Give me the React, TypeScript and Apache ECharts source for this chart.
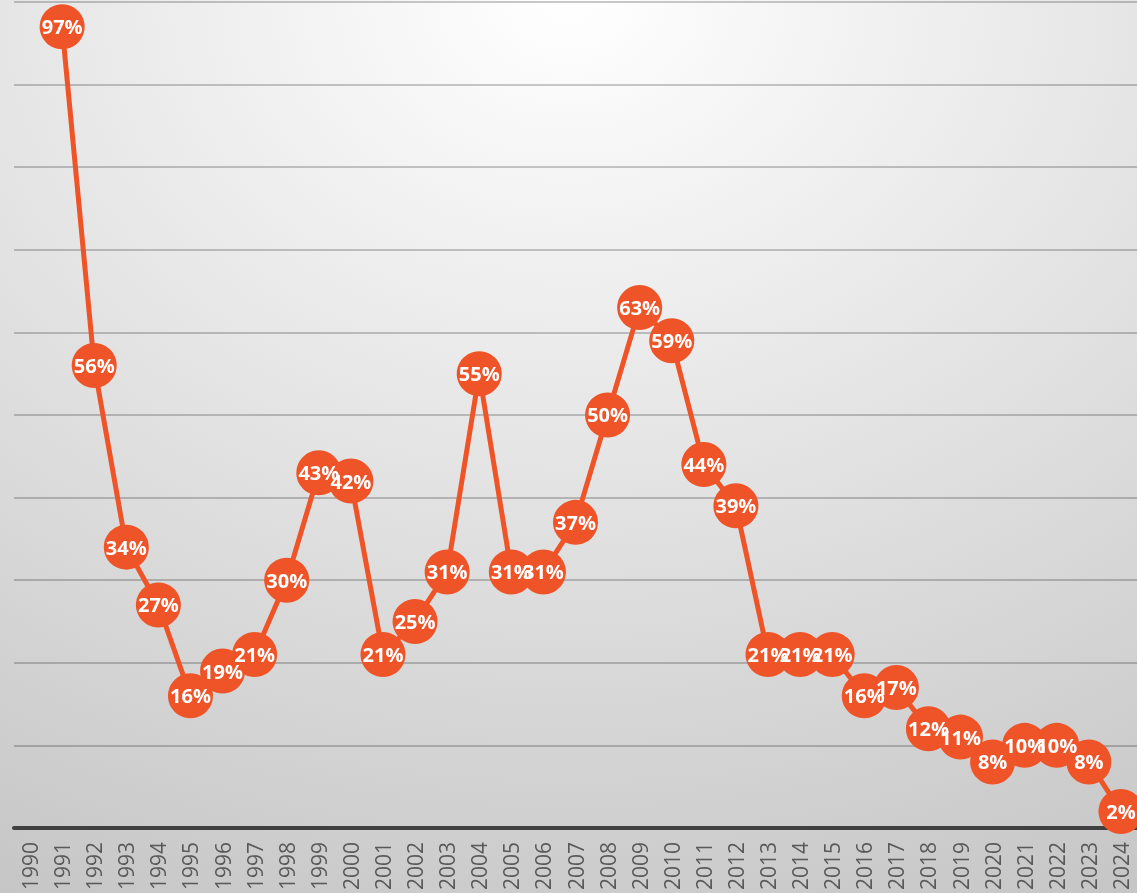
import React, { useEffect, useRef } from "react";
import * as echarts from "echarts";

const years: string[] = [
  "1990", "1991", "1992", "1993", "1994", "1995", "1996", "1997", "1998", "1999",
  "2000", "2001", "2002", "2003", "2004", "2005", "2006", "2007", "2008", "2009",
  "2010", "2011", "2012", "2013", "2014", "2015", "2016", "2017", "2018", "2019",
  "2020", "2021", "2022", "2023", "2024",
];

const values: (number | null)[] = [
  null, 97, 56, 34, 27, 16, 19, 21, 30, 43,
  42, 21, 25, 31, 55, 31, 31, 37, 50, 63,
  59, 44, 39, 21, 21, 21, 16, 17, 12, 11,
  8, 10, 10, 8, 2,
];

const yTicks = { min: 0, max: 100, interval: 10 };

export default function App() {
  const ref = useRef<HTMLDivElement>(null);
  useEffect(() => {
    if (!ref.current) return;
    const chart = echarts.init(ref.current, undefined, { renderer: "svg" });
    chart.setOption({
      animation: false,
      backgroundColor: {
        type: "radial",
        x: 0.5,
        y: 0,
        r: 1.15,
        colorStops: [
          { offset: 0, color: "#ffffff" },
          { offset: 1, color: "#c4c4c4" },
        ],
      },
      grid: { left: 14, right: 0, top: 2, bottom: 65, containLabel: false },
      xAxis: {
        type: "category",
        data: years,
        boundaryGap: true,
        axisLine: { show: true, lineStyle: { color: "#404040", width: 4 } },
        axisTick: { show: false },
        axisLabel: {
          rotate: 90,
          color: "#595959",
          fontSize: 21,
          fontFamily: "Open Sans",
          margin: 14,
          interval: 0,
        },
      },
      yAxis: {
        type: "value",
        min: yTicks.min,
        max: yTicks.max,
        interval: yTicks.interval,
        axisLabel: { show: false },
        axisLine: { show: false },
        axisTick: { show: false },
        splitLine: { lineStyle: { color: "rgba(0,0,0,0.28)", width: 1.5 } },
      },
      series: [
        {
          type: "line",
          data: values,
          connectNulls: false,
          symbol: "circle",
          symbolSize: 45,
          itemStyle: { color: "#EF5428" },
          lineStyle: { color: "#EF5428", width: 5 },
          label: {
            show: true,
            position: "inside",
            color: "#ffffff",
            fontWeight: "bold",
            fontSize: 20,
            fontFamily: "Open Sans",
            formatter: (p: any) => `${p.value}%`,
          },
        },
      ],
    });
    return () => chart.dispose();
  }, []);
  return (
    <div
      ref={ref}
      style={{ position: "fixed", left: 0, top: 0, width: 1137, height: 893 }}
    />
  );
}
